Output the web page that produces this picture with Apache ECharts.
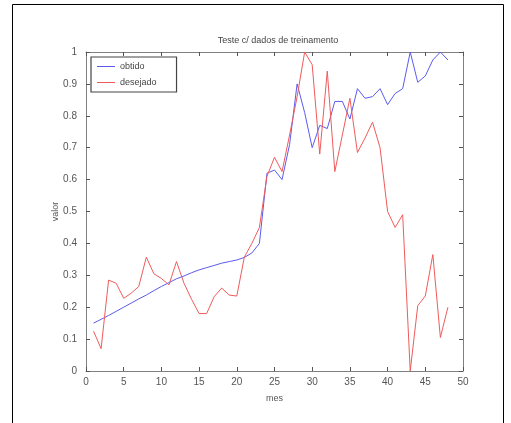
<!DOCTYPE html>
<html>
<head>
<meta charset="utf-8">
<script src="https://cdn.jsdelivr.net/npm/echarts@6/dist/echarts.min.js"></script>
<style>html,body{margin:0;padding:0;background:#fff;}#c{width:511px;height:423px;}</style>
</head>
<body>
<div id="c"></div>
<script>
const meses = [1,2,3,4,5,6,7,8,9,10,11,12,13,14,15,16,17,18,19,20,21,22,23,24,25,26,27,28,29,30,31,32,33,34,35,36,37,38,39,40,41,42,43,44,45,46,47,48];
const obtido = [0.150,0.162,0.174,0.187,0.200,0.213,0.226,0.238,0.252,0.265,0.277,0.289,0.298,0.308,0.317,0.324,0.331,0.338,0.343,0.348,0.356,0.370,0.400,0.620,0.630,0.600,0.710,0.900,0.810,0.700,0.770,0.760,0.845,0.845,0.790,0.885,0.855,0.860,0.885,0.835,0.870,0.885,1.000,0.905,0.925,0.975,1.000,0.975];
const desejado = [0.125,0.070,0.285,0.275,0.228,0.244,0.265,0.357,0.305,0.290,0.270,0.343,0.275,0.225,0.180,0.180,0.233,0.260,0.238,0.235,0.357,0.400,0.450,0.610,0.670,0.625,0.740,0.860,1.000,0.960,0.680,0.940,0.625,0.740,0.855,0.685,0.730,0.780,0.700,0.500,0.450,0.490,0.000,0.205,0.235,0.365,0.105,0.200];
const xTicks = {min:0, max:50, step:5};
const yTicks = {min:0, max:1, step:0.1};
const titulo = 'Teste c/ dados de treinamento';
const xNome = 'mes';
const yNome = 'valor';

const chart = echarts.init(document.getElementById('c'), null, {renderer:'canvas'});
const axisCol = '#808080';
const labCol = '#555';
const fnt = 'Liberation Sans, Arial, sans-serif';
const yFmt = v => (Math.abs(v) < 1e-9 ? '0' : (Math.abs(v-1) < 1e-9 ? '1' : v.toFixed(1)));
const baseX = {type:'value', min:xTicks.min, max:xTicks.max, interval:xTicks.step,
  axisLine:{show:true, onZero:false, lineStyle:{color:axisCol, width:1}},
  axisTick:{show:true, inside:true, length:4, lineStyle:{color:'#555'}},
  splitLine:{show:false}};
const baseY = {type:'value', min:yTicks.min, max:yTicks.max, interval:yTicks.step,
  axisLine:{show:true, onZero:false, lineStyle:{color:axisCol, width:1}},
  axisTick:{show:true, inside:true, length:4, lineStyle:{color:'#555'}},
  splitLine:{show:false}};

chart.setOption({
  animation:false,
  backgroundColor:'#fff',
  title:{text:titulo, left:273, top:31, textAlign:'center',
    textStyle:{fontSize:9, fontWeight:'normal', color:'#444', fontFamily:fnt}},
  grid:{left:86, top:52, right:48, bottom:52, containLabel:false},
  xAxis:[
    Object.assign({}, baseX, {position:'bottom', name:xNome, nameLocation:'middle', nameGap:23,
      nameTextStyle:{fontSize:9, color:labCol, fontFamily:fnt},
      axisLabel:{show:true, color:labCol, fontSize:10, fontFamily:fnt, margin:6}}),
    Object.assign({}, baseX, {position:'top', axisLabel:{show:false}})
  ],
  yAxis:[
    Object.assign({}, baseY, {position:'left', name:yNome, nameLocation:'middle', nameGap:26, nameRotate:90,
      nameMoveOverlap:false,
      nameTextStyle:{fontSize:9, color:labCol, fontFamily:fnt},
      axisLabel:{show:true, color:labCol, fontSize:10, fontFamily:fnt, margin:9, formatter:yFmt}}),
    Object.assign({}, baseY, {position:'right', axisLabel:{show:false}})
  ],
  legend:{orient:'vertical', left:91, top:57, data:['obtido','desejado'],
    icon:'rect', itemWidth:18, itemHeight:1, itemGap:7,
    borderColor:'#444', borderWidth:1.2, padding:[5,20,5,6],
    textStyle:{fontSize:9, color:'#444', fontFamily:fnt}},
  series:[
    {name:'obtido', type:'line', data:meses.map((m,i)=>[m, obtido[i]]), showSymbol:false, symbol:'none',
      lineStyle:{color:'#5b5bef', width:1}, itemStyle:{color:'#5b5bef'}},
    {name:'desejado', type:'line', data:meses.map((m,i)=>[m, desejado[i]]), showSymbol:false, symbol:'none',
      lineStyle:{color:'#ef5b5b', width:1}, itemStyle:{color:'#ef5b5b'}}
  ],
  graphic:[
    {type:'polyline', silent:true, shape:{points:[[12.5,423],[12.5,4.5],[503.5,4.5],[503.5,423]]},
      style:{stroke:'#000', lineWidth:1, fill:null}}
  ]
});
</script>
</body>
</html>
